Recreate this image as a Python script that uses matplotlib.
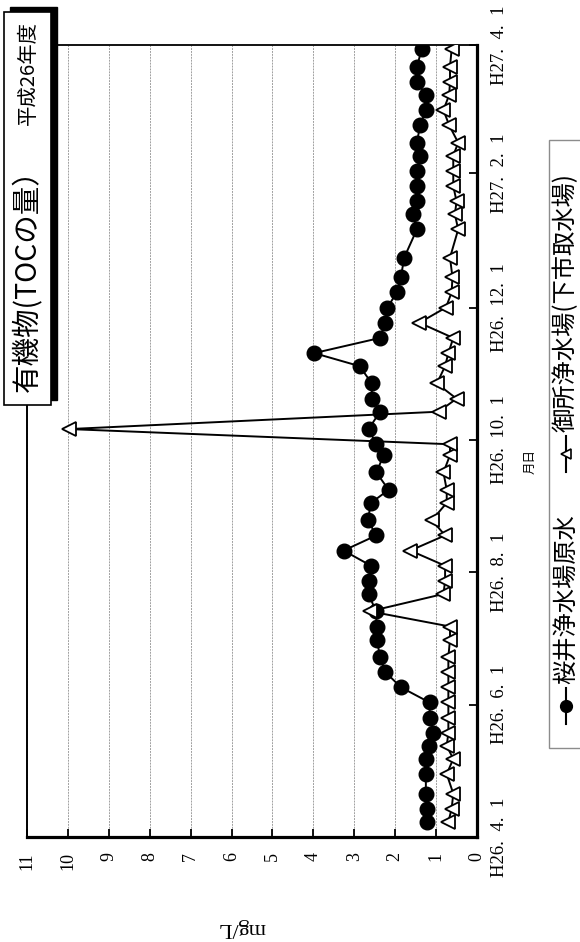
import matplotlib
matplotlib.use("Agg")
import matplotlib.pyplot as plt
import matplotlib.dates as mdates
from matplotlib.patches import Rectangle
from matplotlib.lines import Line2D
import datetime as dt

plt.rcParams['font.family'] = ['Noto Sans CJK JP', 'DejaVu Sans']

# ---------------- data ----------------
dates = ["2014-04-08", "2014-04-14", "2014-04-21", "2014-04-30", "2014-05-07",
         "2014-05-13", "2014-05-19", "2014-05-26", "2014-06-02", "2014-06-09",
         "2014-06-16", "2014-06-23", "2014-07-01", "2014-07-07", "2014-07-14",
         "2014-07-22", "2014-07-28", "2014-08-04", "2014-08-11", "2014-08-18",
         "2014-08-25", "2014-09-02", "2014-09-08", "2014-09-16", "2014-09-24",
         "2014-09-29", "2014-10-06", "2014-10-14", "2014-10-20", "2014-10-27",
         "2014-11-04", "2014-11-10", "2014-11-17", "2014-11-24", "2014-12-01",
         "2014-12-08", "2014-12-15", "2014-12-24", "2015-01-06", "2015-01-13",
         "2015-01-19", "2015-01-26", "2015-02-02", "2015-02-09", "2015-02-15",
         "2015-02-23", "2015-03-02", "2015-03-09", "2015-03-15", "2015-03-22",
         "2015-03-30"]

sakurai = [1.23, 1.23, 1.25, 1.25, 1.25, 1.17, 1.07, 1.15, 1.16, 1.86,
           2.24, 2.37, 2.45, 2.45, 2.47, 2.65, 2.65, 2.59, 3.26, 2.46,
           2.67, 2.59, 2.16, 2.46, 2.28, 2.46, 2.65, 2.37, 2.57, 2.57,
           2.87, 3.98, 2.37, 2.25, 2.19, 1.96, 1.86, 1.78, 1.47, 1.57,
           1.47, 1.47, 1.47, 1.39, 1.47, 1.39, 1.25, 1.25, 1.47, 1.47,
           1.35]

gose = [0.70, 0.62, 0.58, 0.74, 0.58, 0.74, 0.70, 0.70, 0.70, 0.70,
        0.70, 0.70, 0.66, 0.66, 2.62, 0.82, 0.78, 0.78, 1.63, 0.78,
        1.10, 0.74, 0.74, 0.82, 0.66, 0.66, 9.97, 0.94, 0.50, 0.98,
        0.78, 0.70, 0.58, 1.41, 0.76, 0.62, 0.60, 0.66, 0.46, 0.54,
        0.50, 0.58, 0.58, 0.58, 0.46, 0.68, 0.82, 0.68, 0.66, 0.66,
        0.62]

series_names = ["桜井浄水場原水", "御所浄水場(下市取水場)"]
date_ticks = ["2014-04-01", "2014-06-01", "2014-08-01", "2014-10-01",
              "2014-12-01", "2015-02-01", "2015-04-01"]
date_tick_labels = ["H26.  4.  1", "H26.  6.  1", "H26.  8.  1", "H26.  10.  1",
                    "H26.  12.  1", "H27.  2.  1", "H27.  4.  1"]
value_ticks = [0, 1, 2, 3, 4, 5, 6, 7, 8, 9, 10, 11]
title_main = "有機物(TOCの量）"
title_sub = "平成26年度"
value_label = "mg/L"
date_label = "月日"

# ---------------- figure ----------------
W, H = 580, 942
fig = plt.figure(figsize=(W / 100, H / 100), dpi=100)

def fx(px):
    return px / W

def fy(py):
    return 1 - py / H

ax = fig.add_axes([fx(27), fy(837), (477 - 27) / W, (837 - 45) / H])

d = [dt.datetime.strptime(s, "%Y-%m-%d") for s in dates]
ax.plot(sakurai, d, '-', color='black', lw=1.4, marker='o', ms=10.5,
        mfc='black', mec='black', zorder=3)
ax.plot(gose, d, '-', color='black', lw=1.4, marker='<', ms=9.5,
        mfc='white', mec='black', mew=1.3, zorder=4)

ax.set_xlim(11, 0)
ax.set_ylim(dt.datetime(2014, 4, 1), dt.datetime(2015, 4, 1))

serif = 'Liberation Serif'
ax.set_xticks(value_ticks)
ax.set_xticklabels([str(v) for v in value_ticks], rotation=90,
                   fontfamily=serif, fontsize=13, ha='center', va='top')
ax.tick_params(axis='x', direction='in', length=6, width=1.3, pad=11,
               colors='black')

ax.yaxis.tick_right()
ax.set_yticks([mdates.date2num(dt.datetime.strptime(s, "%Y-%m-%d")) for s in date_ticks])
ax.set_yticklabels(date_tick_labels, rotation=90, fontfamily=serif,
                   fontsize=13.5, ha='left', va='center')
ax.tick_params(axis='y', direction='in', length=6, width=1.3, pad=10,
               colors='black')

ax.xaxis.grid(True, color='#a0a0a0', lw=0.7, ls=(0, (2, 1)))
ax.set_axisbelow(True)

for side, lw in [('left', 1.4), ('top', 1.3), ('right', 2.3), ('bottom', 2.3)]:
    ax.spines[side].set_linewidth(lw)
    ax.spines[side].set_color('black')

# axis titles
fig.text(fx(242), fy(928), value_label, rotation=180, ha='center', va='center',
         fontfamily=serif, fontsize=16)
fig.text(fx(530), fy(462), date_label, rotation=90, ha='center', va='center',
         fontsize=9, fontfamily=['Noto Sans CJK JP'])

# title box with shadow
shadow = Rectangle((fx(10), fy(400)), (57 - 10) / W, (400 - 7) / H,
                   transform=fig.transFigure, facecolor='black',
                   edgecolor='black', zorder=10)
box = Rectangle((fx(4), fy(405)), (51 - 4) / W, (405 - 12) / H,
                transform=fig.transFigure, facecolor='white',
                edgecolor='black', lw=1.2, zorder=11)
fig.patches.extend([shadow, box])
fig.text(fx(28), fy(274), title_main, rotation=90, ha='center', va='center',
         fontsize=20.5, zorder=12)
fig.text(fx(28), fy(73), title_sub, rotation=90, ha='center', va='center',
         fontsize=14.7, zorder=12)

# legend (rotated layout)
leg = Rectangle((fx(549), fy(748)), (590 - 549) / W, (748 - 140) / H,
                transform=fig.transFigure, facecolor='white',
                edgecolor='#8c8c8c', lw=1.0, zorder=5)
fig.patches.append(leg)
lx = 566
fig.add_artist(Line2D([fx(lx), fx(lx)], [fy(724), fy(688)], color='black',
                      lw=1.5, marker=None, transform=fig.transFigure, zorder=6))
fig.add_artist(Line2D([fx(lx)], [fy(706)], color='black', marker='o', ms=8.5,
                      transform=fig.transFigure, zorder=7))
fig.text(fx(lx), fy(684), series_names[0], rotation=90, ha='center',
         va='bottom', fontsize=17.5, zorder=7)
fig.add_artist(Line2D([fx(lx), fx(lx)], [fy(472), fy(436)], color='black',
                      lw=1.5, transform=fig.transFigure, zorder=6))
fig.add_artist(Line2D([fx(lx)], [fy(454)], color='black', marker='<', ms=7.5,
                      mfc='white', mec='black', mew=1.2,
                      transform=fig.transFigure, zorder=7))
fig.text(fx(lx), fy(432), series_names[1], rotation=90, ha='center',
         va='bottom', fontsize=17.5, zorder=7)

fig.savefig("out.png", dpi=100)
